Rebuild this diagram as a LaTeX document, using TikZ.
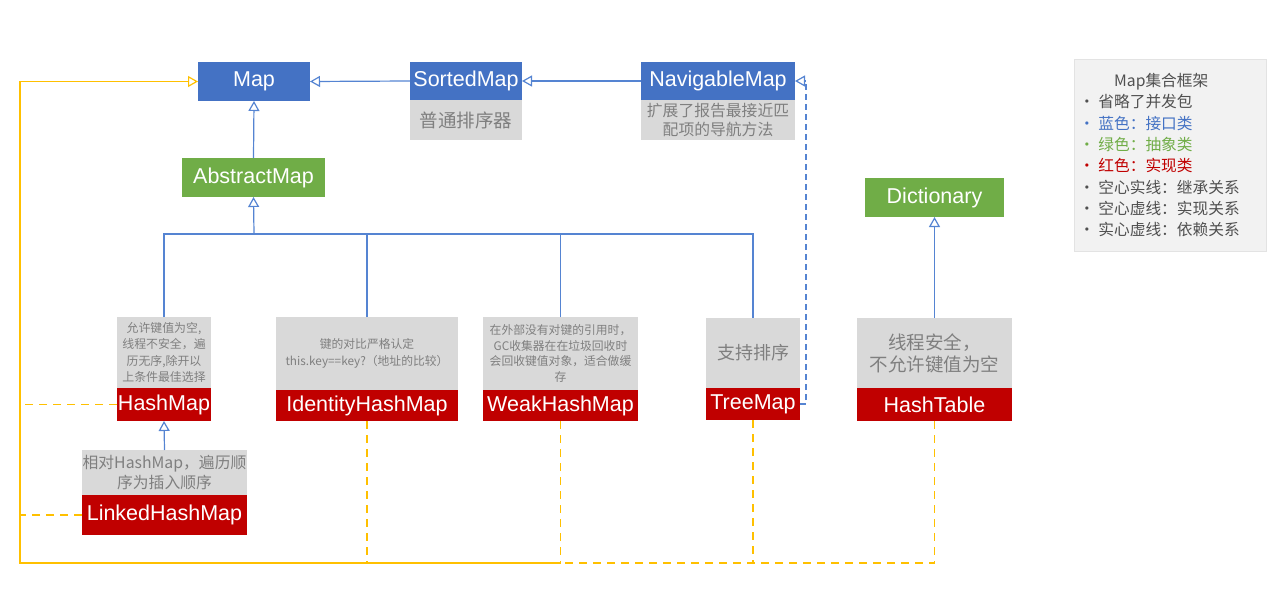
\documentclass[tikz,border=0pt]{standalone}
\usepackage{fontspec}
\setmainfont{Liberation Sans}
\newfontfamily\cjk{Noto Sans CJK SC}
\usetikzlibrary{arrows.meta}
\definecolor{iblue}{HTML}{4472C4}
\definecolor{lnblue}{HTML}{5584D2}
\definecolor{agreen}{HTML}{70AD47}
\definecolor{cred}{HTML}{C00000}
\definecolor{ngray}{HTML}{D9D9D9}
\definecolor{tgray}{HTML}{7F7F7F}
\definecolor{lgfill}{HTML}{F2F2F2}
\definecolor{lgborder}{HTML}{E3E3E3}
\definecolor{lgtext}{HTML}{505050}
\definecolor{ylw}{HTML}{FFC000}
\tikzset{
 cbox/.style={anchor=north west, inner sep=0pt, outer sep=0pt, align=center},
 namefont/.style={font=\fontsize{21.5}{24}\selectfont},
 iface/.style={cbox, namefont, fill=iblue, text=white},
 abst/.style={cbox, namefont, fill=agreen, text=white},
 impl/.style={cbox, namefont, fill=cred, text=white},
 note/.style={cbox, fill=ngray, text=tgray},
 opentip/.style={-{Triangle[open, length=10pt, width=11pt]}},
 inh/.style={draw=lnblue, line width=1.2pt, opentip},
 bline/.style={draw=lnblue, line width=1.2pt},
 realblue/.style={inh, dash pattern=on 6pt off 4pt},
 ysolid/.style={draw=ylw, line width=1.2pt},
 ydash/.style={draw=ylw, line width=1.2pt, dash pattern=on 8pt off 6pt},
 legline/.style={anchor=west, inner sep=0pt, font=\cjk\fontsize{15.7}{19}\selectfont, text=lgtext},
}
\begin{document}
\begin{tikzpicture}[x=1pt,y=-1pt]
\useasboundingbox (0,0) rectangle (1285,591);

% interfaces
\node[iface, minimum width=112pt, minimum height=39pt] (map) at (198,62) {Map};
\node[iface, minimum width=112pt, minimum height=38pt] (sorted) at (410,62) {SortedMap};
\node[note, minimum width=112pt, minimum height=40pt, font=\cjk\fontsize{18.5}{22}\selectfont] (sortednote) at (410,100) {普通排序器};
\node[iface, minimum width=154pt, minimum height=38pt] (nav) at (641,62) {NavigableMap};
\node[note, minimum width=154pt, minimum height=40pt, font=\cjk\fontsize{15.8}{18.3}\selectfont] (navnote) at (641,100) {扩展了报告最接近匹\\配项的导航方法};

% abstract classes
\node[abst, minimum width=143pt, minimum height=39pt] (abs) at (182,158) {AbstractMap};
\node[abst, minimum width=139pt, minimum height=39pt] (dict) at (865,178) {Dictionary};

% HashMap
\node[note, minimum width=94pt, minimum height=71pt, font=\cjk\fontsize{11.9}{16.5}\selectfont] (hashnote) at (117,317) {允许键值为空,\\线程不安全，遍\\历无序,除开以\\上条件最佳选择};
\node[impl, minimum width=94pt, minimum height=33pt] (hashmap) at (117,388) {HashMap};

% LinkedHashMap
\node[note, minimum width=165pt, minimum height=45pt, font=\cjk\fontsize{15.8}{20}\selectfont] (linkednote) at (82,450) {相对HashMap，遍历顺\\序为插入顺序};
\node[impl, minimum width=165pt, minimum height=40pt] (linkedmap) at (82,495) {LinkedHashMap};

% IdentityHashMap
\node[note, minimum width=182pt, minimum height=73pt, font=\cjk\fontsize{11.8}{16.5}\selectfont] (idnote) at (276,317) {键的对比严格认定\\this.key==key?（地址的比较）};
\node[impl, minimum width=182pt, minimum height=31pt] (idmap) at (276,390) {IdentityHashMap};

% WeakHashMap
\node[note, minimum width=155pt, minimum height=73pt, font=\cjk\fontsize{11.8}{15.6}\selectfont] (weaknote) at (483,317) {在外部没有对键的引用时，\\GC收集器在在垃圾回收时\\会回收键值对象，适合做缓\\存};
\node[impl, minimum width=155pt, minimum height=31pt] (weakmap) at (483,390) {WeakHashMap};

% TreeMap
\node[note, minimum width=94pt, minimum height=70pt, font=\cjk\fontsize{18}{21}\selectfont] (treenote) at (706,318) {支持排序};
\node[impl, minimum width=94pt, minimum height=32pt] (treemap) at (706,388) {TreeMap};

% HashTable
\node[note, minimum width=155pt, minimum height=70pt, font=\cjk\fontsize{18.5}{22}\selectfont] (htnote) at (857,318) {线程安全，\\不允许键值为空};
\node[impl, minimum width=155pt, minimum height=33pt] (htmap) at (857,388) {HashTable};

% legend
\node[cbox, fill=lgfill, draw=lgborder, line width=0.6pt, minimum width=192pt, minimum height=192pt] (legend) at (1074,59) {};
\node[legline] (lg0) at (1114,81.7) {Map集合框架};
\node[legline] (lg1) at (1079,101.7) {· 省略了并发包};
\node[legline, text=iblue] (lg2) at (1079,123.3) {· 蓝色：接口类};
\node[legline, text=agreen] (lg3) at (1079,145) {· 绿色：抽象类};
\node[legline, text=cred] (lg4) at (1079,166) {· 红色：实现类};
\node[legline] (lg5) at (1079,187.3) {· 空心实线：继承关系};
\node[legline] (lg6) at (1079,208.3) {· 空心虚线：实现关系};
\node[legline] (lg7) at (1079,229.5) {· 实心虚线：依赖关系};

% inheritance (blue)
\draw[inh] (sorted.west) -- (map.east);
\draw[inh] (nav.west) -- (sorted.east);
\draw[inh] (abs.north) -- (map.south);
\coordinate (bus) at (254,234);
\draw[inh] (bus) -- (abs.south);
\draw[bline] (hashnote.north) -- (hashnote.north |- bus) -- (treenote.north |- bus) -- (treenote.north);
\draw[bline] (idnote.north) -- (idnote.north |- bus);
\draw[bline] (weaknote.north) -- (weaknote.north |- bus);
\draw[inh] (linkednote.north) -- (hashmap.south);
\draw[inh] (htnote.north) -- (dict.south);
\draw[realblue] (treemap.east) -- ++(6,0) |- (nav.east);

% implementation of Map (yellow)
\coordinate (ycorner) at (20,563);
\draw[ydash] (idmap.south) -- (idmap.south |- ycorner);
\draw[ydash] (weakmap.south) -- (weakmap.south |- ycorner);
\draw[ydash] (treemap.south) -- (treemap.south |- ycorner);
\draw[ydash] (htmap.south) -- (htmap.south |- ycorner) -- (weakmap.south |- ycorner);
\draw[ysolid, opentip] (weakmap.south |- ycorner) -- (ycorner) |- (map.west);
\draw[ydash] (hashmap.west) -- (hashmap.west -| ycorner);
\draw[ydash] (linkedmap.west) -- (linkedmap.west -| ycorner);
\end{tikzpicture}
\end{document}
